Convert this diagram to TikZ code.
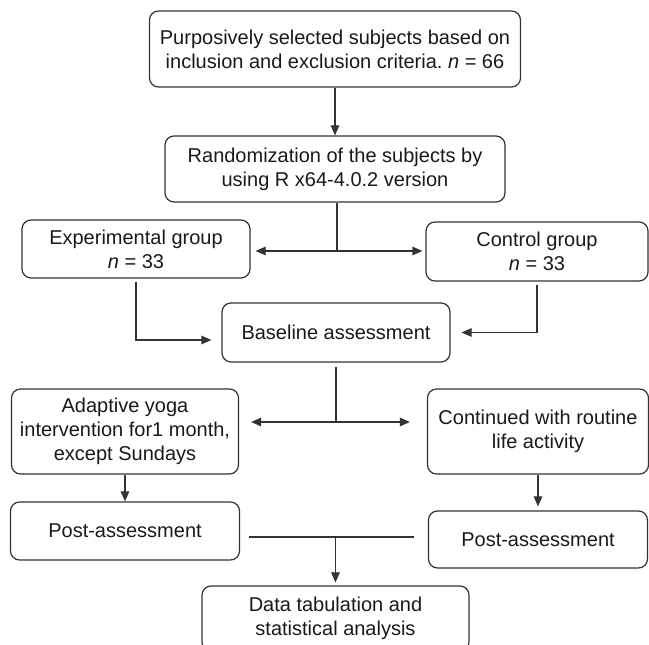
\documentclass[tikz,border=0pt]{standalone}
\usepackage{fontspec}
\setmainfont{Liberation Sans}
\usetikzlibrary{arrows.meta}
\frenchspacing

\begin{document}
\begin{tikzpicture}[x=1pt,y=1pt]
\tikzset{
  flowbox/.style={rectangle,rounded corners=9pt,draw=black!80,line width=1.2pt,align=center,inner sep=0pt,text=black!90,font=\fontsize{20}{24}\selectfont},
  flowline/.style={draw=black!80,line width=1.2pt},
  flowarrow/.style={flowline,-{Triangle[length=10pt,width=8.5pt]}}
}
\useasboundingbox (0,0) rectangle (649,645);
\clip (0,0) rectangle (649,645);
\node[flowbox,minimum width=371pt,minimum height=76pt] (n_select) at (335,596) {Purposively selected subjects based on\\inclusion and exclusion criteria. \textit{n} = 66};
\node[flowbox,minimum width=340pt,minimum height=66pt] (n_random) at (335,476) {Randomization of the subjects by\\using R x64-4.0.2 version};
\node[flowbox,minimum width=228pt,minimum height=58pt] (n_exp) at (136,396) {Experimental group\\\textit{n} = 33};
\node[flowbox,minimum width=222pt,minimum height=59pt] (n_ctrl) at (537,393.5) {Control group\\\textit{n} = 33};
\node[flowbox,minimum width=228pt,minimum height=59pt] (n_base) at (336,312.5) {Baseline assessment};
\node[flowbox,minimum width=227pt,minimum height=85pt] (n_yoga) at (125,213.5) {Adaptive yoga\\intervention for1 month,\\except Sundays};
\node[flowbox,minimum width=221pt,minimum height=85pt] (n_cont) at (538,213.5) {Continued with routine\\life activity};
\node[flowbox,minimum width=229pt,minimum height=58pt] (n_post_e) at (125,114) {Post-assessment};
\node[flowbox,minimum width=219pt,minimum height=57pt] (n_post_c) at (538,105.5) {Post-assessment};
\node[flowbox,minimum width=267pt,minimum height=65pt] (n_data) at (335.5,26.5) {Data tabulation and\\statistical analysis};
\coordinate (c_split) at (337,394);
\coordinate (c_fork) at (336,223);
\coordinate (c_join) at (335.5,108);
\draw[flowarrow] (n_select) -- (n_random);
\draw[flowline] (n_random.south -| c_split) -- (c_split);
\draw[flowarrow,shorten >=5pt] (c_split) -- (c_split -| n_exp.east);
\draw[flowarrow,shorten >=3pt] (c_split) -- (c_split -| n_ctrl.west);
\draw[flowarrow,shorten <=3pt,shorten >=10pt] (n_exp) |- ([yshift=-7.5pt]n_base.west);
\draw[flowarrow,shorten <=3pt,shorten >=11pt] (n_ctrl) |- (n_base.east);
\draw[flowline,shorten <=4pt] (n_base) -- (c_fork);
\draw[flowarrow,shorten >=12pt] (c_fork) -- (c_fork -| n_yoga.east);
\draw[flowarrow,shorten >=17pt] (c_fork) -- (c_fork -| n_cont.west);
\draw[flowarrow] (n_yoga) -- (n_post_e);
\draw[flowarrow,shorten >=4pt] (n_cont) -- (n_post_c);
\draw[flowline,shorten <=8.5pt,shorten >=14pt] (c_join -| n_post_e.east) -- (c_join -| n_post_c.west);
\draw[flowarrow,shorten >=3pt] (c_join) -- (n_data);
\end{tikzpicture}
\end{document}
